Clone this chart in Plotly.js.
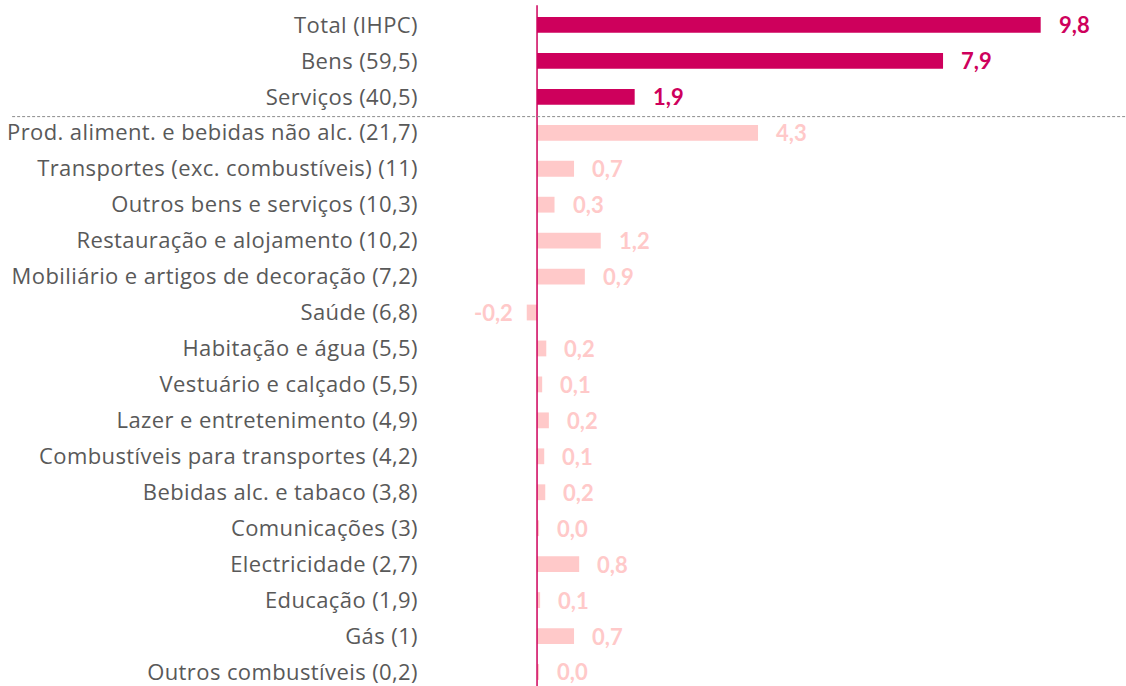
<!DOCTYPE html>
<html>
<head>
<meta charset="utf-8">
<script src="https://cdn.plot.ly/plotly-3.0.1.min.js"></script>
<style>
html,body{margin:0;padding:0;background:#fff;}
#chart{width:1126px;height:686px;}
#chart .ytick text{letter-spacing:0.4px;}
</style>
</head>
<body>
<div id="chart"></div>
<script>
const categories = [
  "Total (IHPC)", "Bens (59,5)", "Serviços (40,5)",
  "Prod. aliment. e bebidas não alc. (21,7)",
  "Transportes (exc. combustíveis) (11)",
  "Outros bens e serviços (10,3)",
  "Restauração e alojamento (10,2)",
  "Mobiliário e artigos de decoração (7,2)",
  "Saúde (6,8)",
  "Habitação e água (5,5)",
  "Vestuário e calçado (5,5)",
  "Lazer e entretenimento (4,9)",
  "Combustíveis para transportes (4,2)",
  "Bebidas alc. e tabaco (3,8)",
  "Comunicações (3)",
  "Electricidade (2,7)",
  "Educação (1,9)",
  "Gás (1)",
  "Outros combustíveis (0,2)"
];
const values = [9.8, 7.9, 1.9, 4.3, 0.72, 0.34, 1.24, 0.93, -0.2, 0.18, 0.1, 0.23, 0.14, 0.16, 0.04, 0.82, 0.06, 0.72, 0.04];
const groups = ["agg","agg","agg","sub","sub","sub","sub","sub","sub","sub","sub","sub","sub","sub","sub","sub","sub","sub","sub"];

const DARK = "#CE005C";
const LIGHT = "#FFC9C9";
const colors = groups.map(g => g === "agg" ? DARK : LIGHT);
const fmt = v => v.toFixed(1).replace(".", ",");

const trace = {
  type: "bar",
  orientation: "h",
  y: categories,
  x: values,
  marker: {color: colors},
  width: 0.44,
  hoverinfo: "x+y"
};

const annotations = values.map((v, i) => ({
  x: v, y: categories[i], xref: "x", yref: "y",
  text: "<b>" + fmt(v) + "</b>",
  showarrow: false,
  xanchor: v < 0 ? "right" : "left",
  xshift: v < 0 ? -12 : 16,
  font: {family: "Lato, sans-serif", size: 22, color: colors[i]}
}));

const layout = {
  width: 1126, height: 686,
  margin: {l: 425, r: 0, t: 0, b: 0},
  paper_bgcolor: "#fff", plot_bgcolor: "#fff",
  showlegend: false,
  xaxis: {range: [-2.18, 11.46], showgrid: false, zeroline: false, showticklabels: false, fixedrange: true},
  yaxis: {type: "category", range: [18.39, -0.694], showgrid: false, zeroline: false,
          ticks: "", ticklabelstandoff: 6,
          tickfont: {family: "'Open Sans', sans-serif", size: 22, color: "#595959"}, fixedrange: true},
  annotations: annotations,
  shapes: [
    {type: "line", xref: "x", yref: "y", x0: 0, x1: 0, y0: -0.55, y1: 18.39,
     line: {color: DARK, width: 1.5}},
    {type: "line", xref: "paper", yref: "y", x0: -0.589, x1: 1, y0: 2.55, y1: 2.55,
     line: {color: "#8c8c8c", width: 1, dash: "3px,2px"}}
  ]
};

Plotly.newPlot("chart", [trace], layout, {displayModeBar: false, staticPlot: true});
</script>
</body>
</html>
